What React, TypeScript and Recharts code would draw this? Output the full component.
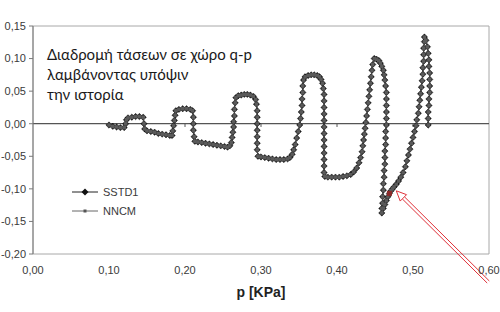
import React from "react";
import {
  ScatterChart,
  Scatter,
  XAxis,
  YAxis,
  ReferenceLine,
  ReferenceArea,
  Legend,
} from "recharts";

// άξονες
const xTicks = [0, 0.1, 0.2, 0.3, 0.4, 0.5, 0.6];
const yTicks = [-0.2, -0.15, -0.1, -0.05, 0, 0.05, 0.1, 0.15];
const titleLines = ["Διαδρομή τάσεων σε χώρο q-p", "λαμβάνοντας υπόψιν", "την ιστορία"];
const seriesNames = ["SSTD1", "NNCM"];

// SSTD1: p (KPa) και q, με τη σειρά της διαδρομής
const sstd1P = [
  0.1, 0.105, 0.11, 0.115, 0.12, 0.122, 0.123, 0.125, 0.13, 0.135, 0.14, 0.145,
  0.146, 0.147, 0.15, 0.155, 0.16, 0.165, 0.17, 0.175, 0.18, 0.183,
  0.184, 0.185, 0.186, 0.187, 0.188, 0.192, 0.197, 0.202, 0.207, 0.21,
  0.211, 0.211, 0.211, 0.212, 0.213,
  0.217, 0.222, 0.227, 0.232, 0.237, 0.242, 0.247, 0.252, 0.256, 0.259, 0.261, 0.262, 0.263, 0.264, 0.264, 0.265, 0.265, 0.266,
  0.267, 0.27, 0.274, 0.278, 0.282, 0.286, 0.29, 0.293, 0.294, 0.295, 0.295, 0.295, 0.295, 0.295, 0.295, 0.295, 0.296,
  0.3, 0.305, 0.31, 0.315, 0.32, 0.325, 0.33, 0.335, 0.338, 0.341, 0.343, 0.345, 0.347, 0.349, 0.351, 0.352, 0.353, 0.354, 0.354, 0.355, 0.355, 0.356,
  0.358, 0.362, 0.366, 0.37, 0.374, 0.377, 0.379, 0.381, 0.382, 0.383, 0.383, 0.383, 0.383, 0.383, 0.383, 0.383, 0.383, 0.383, 0.383, 0.383, 0.383, 0.383, 0.384,
  0.388, 0.393, 0.398, 0.403, 0.408, 0.413, 0.418, 0.422, 0.426, 0.429, 0.431, 0.433, 0.434, 0.435, 0.436, 0.437, 0.438, 0.439, 0.44, 0.441, 0.442, 0.443, 0.444, 0.445, 0.446, 0.447,
  0.449, 0.452, 0.455, 0.457, 0.459, 0.461, 0.462, 0.463, 0.464, 0.465, 0.465, 0.465, 0.465, 0.465, 0.465, 0.464, 0.464, 0.464, 0.463, 0.463, 0.463, 0.462, 0.462, 0.461, 0.461, 0.46, 0.46, 0.459, 0.459,
  0.461, 0.463, 0.465, 0.467, 0.469, 0.471, 0.473, 0.475, 0.478, 0.481, 0.484, 0.487, 0.49, 0.492, 0.494, 0.496, 0.498, 0.5, 0.502, 0.504, 0.505, 0.507, 0.508, 0.509, 0.51, 0.511, 0.512, 0.513, 0.513, 0.514, 0.514, 0.514, 0.515, 0.515,
  0.517, 0.519, 0.52, 0.521, 0.521, 0.522, 0.522, 0.522, 0.522, 0.521, 0.521, 0.52, 0.52, 0.52,
];
const sstd1Q = [
  -0.002, -0.004, -0.005, -0.006, -0.006, 0.0, 0.006, 0.009, 0.01, 0.011, 0.011, 0.01,
  0.0, -0.008, -0.011, -0.012, -0.013, -0.015, -0.016, -0.017, -0.018, -0.018,
  -0.011, -0.003, 0.005, 0.013, 0.02, 0.022, 0.023, 0.023, 0.022, 0.02,
  0.01, 0.0, -0.01, -0.02, -0.027,
  -0.028, -0.029, -0.03, -0.031, -0.032, -0.033, -0.034, -0.035, -0.036, -0.034, -0.029, -0.021, -0.013, -0.005, 0.003, 0.012, 0.022, 0.032,
  0.04, 0.043, 0.044, 0.045, 0.045, 0.044, 0.042, 0.037, 0.03, 0.02, 0.01, 0.0, -0.01, -0.02, -0.03, -0.04, -0.05,
  -0.051, -0.052, -0.053, -0.054, -0.055, -0.055, -0.055, -0.054, -0.052, -0.047, -0.04, -0.032, -0.022, -0.012, -0.002, 0.008, 0.018, 0.028, 0.038, 0.048, 0.058, 0.067,
  0.072, 0.074, 0.075, 0.075, 0.074, 0.072, 0.068, 0.062, 0.054, 0.045, 0.035, 0.025, 0.015, 0.005, -0.005, -0.015, -0.025, -0.035, -0.045, -0.055, -0.065, -0.075, -0.081,
  -0.082, -0.082, -0.082, -0.082, -0.081, -0.08, -0.078, -0.074, -0.068, -0.06, -0.052, -0.043, -0.034, -0.025, -0.016, -0.007, 0.002, 0.012, 0.022, 0.032, 0.042, 0.052, 0.062, 0.072, 0.082, 0.091,
  0.1, 0.099, 0.097, 0.093, 0.088, 0.082, 0.075, 0.067, 0.058, 0.048, 0.038, 0.028, 0.018, 0.008, -0.002, -0.012, -0.022, -0.032, -0.042, -0.052, -0.062, -0.072, -0.082, -0.092, -0.102, -0.112, -0.122, -0.13, -0.137,
  -0.13, -0.124, -0.118, -0.112, -0.107, -0.103, -0.1, -0.097, -0.093, -0.088, -0.082, -0.075, -0.066, -0.057, -0.048, -0.039, -0.03, -0.021, -0.012, -0.003, 0.006, 0.016, 0.026, 0.036, 0.046, 0.056, 0.066, 0.076, 0.086, 0.096, 0.106, 0.116, 0.126, 0.133,
  0.128, 0.118, 0.108, 0.098, 0.088, 0.078, 0.068, 0.058, 0.048, 0.038, 0.028, 0.018, 0.008, -0.002,
];

// NNCM: η καμπύλη συμπίπτει με την SSTD1
const nncmP = sstd1P;
const nncmQ = sstd1Q;

// σημείο που δείχνει το βέλος
const markedP = [0.469];
const markedQ = [-0.107];
const arrowTail = { x: 0.599, y: -0.243 };
const arrowHead = { x: 0.478, y: -0.103 };

const toRows = (ps: number[], qs: number[]) => ps.map((p, i) => ({ p, q: qs[i] }));
const sstd1Data = toRows(sstd1P, sstd1Q);
const nncmData = toRows(nncmP, nncmQ);
const markedData = toRows(markedP, markedQ);

const fmt = (v: number) => v.toFixed(2).replace(".", ",");
const axisFont = { fontSize: 11, fill: "#3a3a3a", fontFamily: "Liberation Sans, Arial, sans-serif" };

function Diamond(props: any) {
  const { cx, cy } = props;
  if (cx == null || cy == null) return null;
  const r = 3.2;
  return (
    <path
      d={`M${cx},${cy - r}L${cx + r},${cy}L${cx},${cy + r}L${cx - r},${cy}Z`}
      fill="#1e1e1e"
      stroke="#000"
      strokeWidth={0.4}
    />
  );
}

function Square(props: any) {
  const { cx, cy } = props;
  if (cx == null || cy == null) return null;
  return <rect x={cx - 1.8} y={cy - 1.8} width={3.6} height={3.6} fill="#5a5a5a" />;
}

function RedMark(props: any) {
  const { cx, cy } = props;
  if (cx == null || cy == null) return null;
  return <rect x={cx - 2.5} y={cy - 2.5} width={5} height={5} fill="#8a2a2a" />;
}

function RedArrow(props: any) {
  const { x1, y1, x2, y2 } = props;
  if (x1 == null) return null;
  const dx = x2 - x1;
  const dy = y2 - y1;
  const len = Math.hypot(dx, dy);
  const ux = dx / len;
  const uy = dy / len;
  const nx = -uy;
  const ny = ux;
  const gap = 1.5;
  const bx = x2 - ux * 10;
  const by = y2 - uy * 10;
  const red = "#e0313a";
  return (
    <g>
      <line x1={x1 + nx * gap} y1={y1 + ny * gap} x2={bx + nx * gap} y2={by + ny * gap} stroke={red} strokeWidth={1} />
      <line x1={x1 - nx * gap} y1={y1 - ny * gap} x2={bx - nx * gap} y2={by - ny * gap} stroke={red} strokeWidth={1} />
      <path
        d={`M${x2},${y2}L${bx + nx * 4.5},${by + ny * 4.5}L${bx - nx * 4.5},${by - ny * 4.5}Z`}
        fill="#fff"
        stroke={red}
        strokeWidth={1}
      />
    </g>
  );
}

function LegendBox() {
  return (
    <div style={{ fontFamily: "Liberation Sans, Arial, sans-serif", fontSize: 11, color: "#3a3a3a" }}>
      {seriesNames.map((name, i) => (
        <div key={name} style={{ display: "flex", alignItems: "center", height: 19 }}>
          <svg width={28} height={10}>
            <line x1={0} y1={5} x2={26} y2={5} stroke={i === 0 ? "#222" : "#666"} strokeWidth={1} />
            {i === 0 ? (
              <path d="M13,1.5L16.5,5L13,8.5L9.5,5Z" fill="#111" />
            ) : (
              <rect x={11.5} y={3.5} width={3} height={3} fill="#555" />
            )}
          </svg>
          <span style={{ marginLeft: 3 }}>{name}</span>
        </div>
      ))}
    </div>
  );
}

export default function App() {
  return (
    <div style={{ position: "absolute", left: 0, top: 0, width: 500, height: 312, background: "#fff" }}>
      <ScatterChart width={500} height={312} margin={{ top: 26, right: 11, bottom: 0, left: 0 }}>
        <ReferenceArea x1={0} x2={0.6} y1={-0.2} y2={0.15} fill="none" stroke="#a8a8a8" strokeWidth={1} />
        <XAxis
          type="number"
          dataKey="p"
          domain={[0, 0.6]}
          ticks={xTicks}
          interval={0}
          tickFormatter={fmt}
          axisLine={false}
          tickLine={false}
          tickSize={0}
          tickMargin={12}
          height={58}
          tick={axisFont}
          label={{
            value: "p [KPa]",
            position: "insideBottom",
            offset: 15,
            style: { fontSize: 14, fontWeight: "bold", fill: "#222", fontFamily: "Liberation Sans, Arial, sans-serif" },
          }}
        />
        <YAxis
          type="number"
          dataKey="q"
          domain={[-0.2, 0.15]}
          ticks={yTicks}
          interval={0}
          tickFormatter={fmt}
          width={33}
          axisLine={{ stroke: "#7a7a7a" }}
          tickLine={{ stroke: "#7a7a7a" }}
          tickSize={4}
          tickMargin={3}
          tick={axisFont}
        />
        <ReferenceLine y={0} stroke="#555" strokeWidth={1.3} />
        {xTicks.slice(1, -1).map((t) => (
          <ReferenceLine
            key={t}
            segment={[
              { x: t, y: 0 },
              { x: t, y: -0.005 },
            ]}
            stroke="#555"
          />
        ))}
        <Legend
          layout="horizontal"
          verticalAlign="middle"
          align="center"
          wrapperStyle={{ left: 72, top: 182, width: 90 }}
          content={() => <LegendBox />}
        />
        <Scatter
          name={seriesNames[0]}
          data={sstd1Data}
          line={{ stroke: "#111", strokeWidth: 1 }}
          lineType="joint"
          shape={Diamond}
          isAnimationActive={false}
        />
        <Scatter
          name={seriesNames[1]}
          data={nncmData}
          line={{ stroke: "#555", strokeWidth: 0.8 }}
          lineType="joint"
          shape={Square}
          isAnimationActive={false}
        />
        <Scatter name="marked" data={markedData} shape={RedMark} isAnimationActive={false} legendType="none" />
        <ReferenceLine segment={[arrowTail, arrowHead]} ifOverflow="visible" shape={RedArrow} />
      </ScatterChart>
      <div
        style={{
          position: "absolute",
          left: 47,
          top: 44,
          fontFamily: "Lato, sans-serif",
          fontSize: 15,
          lineHeight: "20px",
          color: "#1a1a1a",
          whiteSpace: "nowrap",
        }}
      >
        {titleLines.map((l) => (
          <div key={l}>{l}</div>
        ))}
      </div>
    </div>
  );
}
